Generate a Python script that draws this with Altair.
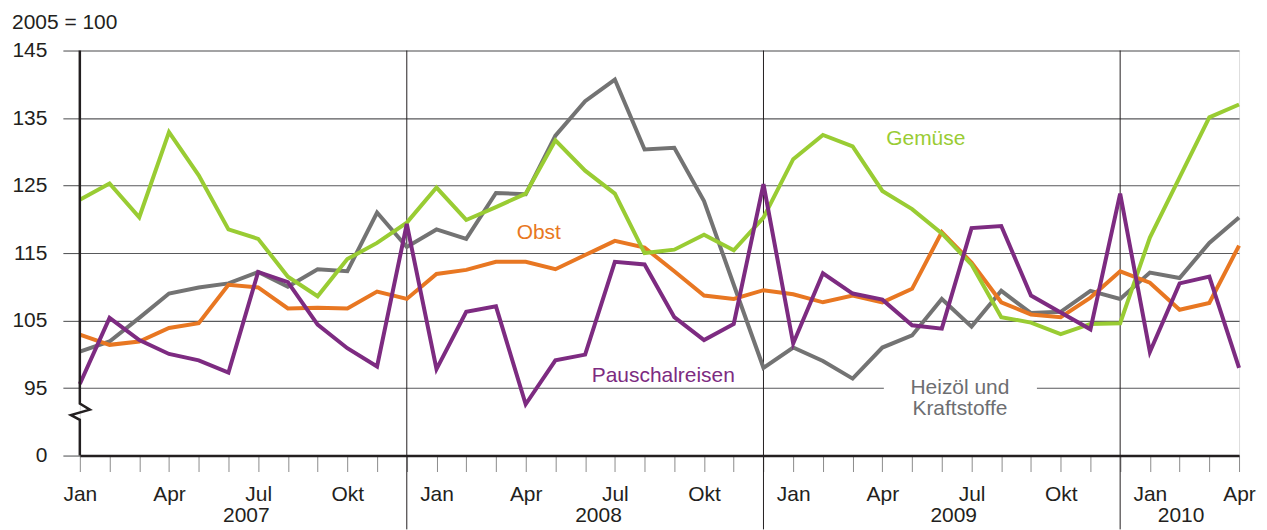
import altair as alt
import pandas as pd

# ---- data (index 2005 = 100), Jan 2007 .. Apr 2010 ----
years = [2007, 2008, 2009, 2010]
month_names = ["Jan", "Feb", "Mär", "Apr", "Mai", "Jun", "Jul", "Aug", "Sep", "Okt", "Nov", "Dez"]
shown_months = ["Jan", "Apr", "Jul", "Okt"]

gemuese = [122.9, 125.3, 120.3, 132.9, 126.5, 118.5, 117.1, 111.5, 108.6, 114.1, 116.5, 119.5,
           124.7, 119.9, 121.8, 123.8, 131.7, 127.2, 123.8, 115.0, 115.5, 117.7, 115.4, 120.25,
           128.9, 132.5, 130.8, 124.2, 121.5, 117.9, 113.3, 105.5, 104.7, 103.0, 104.5, 104.6,
           117.3, 126.2, 135.1, 137.0]
heizoel = [100.4, 101.9, 105.4, 109.0, 109.9, 110.5, 112.2, 110.0, 112.6, 112.3, 121.0, 115.9,
           118.5, 117.1, 123.9, 123.7, 132.4, 137.5, 140.7, 130.35, 130.6, 122.7, 110.3, 98.0,
           101.0, 99.0, 96.4, 101.0, 102.8, 108.2, 104.1, 109.4, 106.1, 106.3, 109.4, 108.2,
           112.1, 111.3, 116.5, 120.25]
obst = [102.9, 101.4, 101.9, 103.9, 104.6, 110.3, 109.9, 106.8, 106.9, 106.8, 109.3, 108.2,
        111.9, 112.5, 113.7, 113.7, 112.6, 114.7, 116.8, 115.8, 112.3, 108.7, 108.2, 109.5,
        108.9, 107.7, 108.7, 107.7, 109.7, 118.1, 113.6, 107.7, 105.9, 105.5, 108.4, 112.3,
        110.6, 106.6, 107.6, 116.1]
pauschal = [95.6, 105.4, 102.1, 100.05, 99.1, 97.3, 112.2, 110.7, 104.4, 100.9, 98.2, 119.3,
            97.8, 106.3, 107.1, 92.6, 99.1, 99.95, 113.7, 113.3, 105.5, 102.1, 104.5, 125.2,
            101.6, 112.0, 109.0, 108.1, 104.3, 103.8, 118.7, 119.0, 108.7, 106.2, 103.7, 123.8,
            100.35, 110.5, 111.5, 98.0]

series_names = ["Heizöl und Kraftstoffe", "Obst", "Gemüse", "Pauschalreisen"]
series_values = [heizoel, obst, gemuese, pauschal]
series_colors = ["#737373", "#e87722", "#99cc33", "#7d2b81"]

y_ticks = [85, 95, 105, 115, 125, 135, 145]   # 85 is shown as "0" (broken axis)
n_months = len(gemuese)

# ---- tables ----
rows = []
for name, vals in zip(series_names, series_values):
    for i, v in enumerate(vals):
        rows.append({"m": i, "series": name, "value": v})
df = pd.DataFrame(rows)

sep_df = pd.DataFrame({"m": [11, 23, 35]})  # December of each year
year_df = pd.DataFrame({"m": [5.6, 17.45, 29.4, 37.05], "year": [str(y) for y in years]})

labels_df = pd.DataFrame({
    "m": [28.46, 15.44, 19.63, 29.61],
    "v": [130.96, 117.07, 95.94, 94.17],
    "text": ["Gemüse", "Obst", "Pauschalreisen", "Heizöl und\nKraftstoffe"],
    "color": ["#99cc33", "#e87722", "#7d2b81", "#6d6e71"],
})
gap_df = pd.DataFrame({"m": [27.05], "m2": [32.2], "v": [94.0], "v2": [96.0]})
yaxis_df = pd.DataFrame({"m": [0, 0, 0.336, -0.30, 0, 0],
                         "v": [145, 92.7, 91.8, 91.0, 90.3, 85],
                         "o": [0, 1, 2, 3, 4, 5]})

label_arr = "[" + ",".join("'" + (mn if mn in shown_months else "") + "'" for mn in month_names) + "]"

FONT = "Liberation Sans"
xscale = alt.Scale(domain=[0, n_months - 1], nice=False, zero=False)
yscale = alt.Scale(domain=[85, 145], nice=False, zero=False)

x_axis = alt.Axis(values=list(range(n_months)), labelExpr=label_arr + "[datum.value % 12]",
                  tickSize=16, tickColor="#8c8c8c", tickWidth=1,
                  domainColor="#231f20", domainWidth=2.5,
                  labelFontSize=21, labelColor="#231f20", labelBaseline="alphabetic",
                  labelPadding=29, labelAlign="center", labelOverlap=False,
                  labelFlush=False, labelBound=False, grid=False, title=None)
y_axis = alt.Axis(values=y_ticks, labelExpr="datum.value == 85 ? '0' : datum.label",
                  grid=True, gridColor="#58595b", gridWidth=1.1,
                  tickSize=17, tickColor="#58595b", tickWidth=1.1, domain=False,
                  labelFontSize=21, labelColor="#231f20", labelPadding=16,
                  labelOverlap=False, labelFlush=False, labelBound=False, title=None)


def X(field):
    return alt.X(field, scale=xscale, axis=x_axis)


def Y(field):
    return alt.Y(field, scale=yscale, axis=y_axis)


gap = alt.Chart(gap_df).mark_rect(color="white").encode(
    x=X("m:Q"), x2="m2:Q", y=Y("v:Q"), y2="v2:Q",
)

seps = alt.Chart(sep_df).mark_rule(color="#231f20", strokeWidth=1).encode(
    x=X("m:Q"), y=alt.value(0), y2=alt.value(480),
)

lines = alt.Chart(df).mark_line(strokeWidth=4, strokeJoin="miter").encode(
    x=X("m:Q"),
    y=Y("value:Q"),
    color=alt.Color("series:N", scale=alt.Scale(domain=series_names, range=series_colors), legend=None),
)

yline = alt.Chart(yaxis_df).mark_line(color="#231f20", strokeWidth=2.5, strokeJoin="miter").encode(
    x=X("m:Q"), y=Y("v:Q"), order="o:Q",
)

texts = alt.Chart(labels_df).mark_text(font=FONT, fontSize=21, align="center", baseline="alphabetic",
                                       lineBreak="\n", lineHeight=21).encode(
    x=X("m:Q"), y=Y("v:Q"),
    text="text:N",
    color=alt.Color("color:N", scale=None),
)

year_text = alt.Chart(year_df).mark_text(font=FONT, fontSize=21, align="center", baseline="alphabetic",
                                         color="#231f20").encode(
    x=X("m:Q"), y=alt.value(473), text="year:N",
)

unit_text = alt.Chart(pd.DataFrame({"t": ["2005 = 100"]})).mark_text(
    font=FONT, fontSize=21, align="left", baseline="alphabetic", color="#231f20"
).encode(x=alt.value(-68), y=alt.value(-22), text="t:N")

chart = alt.layer(gap, seps, lines, yline, texts, year_text, unit_text).properties(
    width=1162, height=406,
    autosize=alt.AutoSizeParams(type="none"),
    padding={"left": 72, "top": 42, "right": 20, "bottom": 74},
).configure_view(stroke=None).configure(font=FONT)

chart.save("out.html", embed_options={"renderer": "svg", "actions": False})
